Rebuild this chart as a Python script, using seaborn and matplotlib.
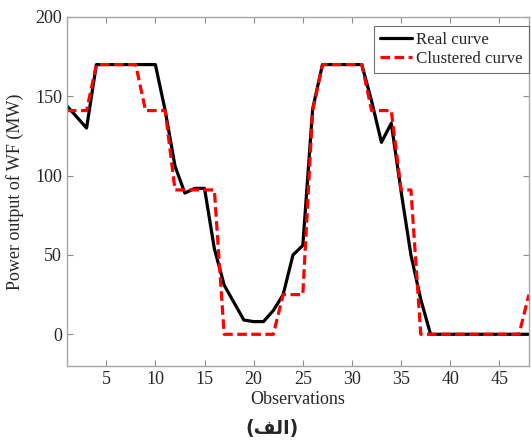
import numpy as np
import pandas as pd
import matplotlib
matplotlib.use("Agg")
import matplotlib.pyplot as plt
import seaborn as sns

# Observations (hourly index) and the two power curves, in MW
observations = list(range(1, 49))
real_curve = [
    144, 137, 130, 170, 170, 170, 170, 170, 170, 170,
    141, 106, 89, 92, 92, 54, 31, 20, 9, 8,
    8, 15, 25, 50, 56, 142, 170, 170, 170, 170,
    170, 147, 121, 133, 90, 50, 22, 0, 0, 0,
    0, 0, 0, 0, 0, 0, 0, 0,
]
clustered_curve = [
    141, 141, 141, 170, 170, 170, 170, 170, 141, 141,
    141, 91, 91, 91, 91, 91, 0, 0, 0, 0,
    0, 0, 25, 25, 25, 141, 170, 170, 170, 170,
    170, 141, 141, 141, 91, 91, 0, 0, 0, 0,
    0, 0, 0, 0, 0, 0, 0, 25,
]
series_names = ["Real curve", "Clustered curve"]
x_ticks = [5, 10, 15, 20, 25, 30, 35, 40, 45]
y_ticks = [0, 50, 100, 150, 200]

df = pd.DataFrame({
    "obs": observations * 2,
    "power": real_curve + clustered_curve,
    "curve": [series_names[0]] * len(real_curve) + [series_names[1]] * len(clustered_curve),
})

sns.set_style("ticks")
plt.rcParams["font.family"] = ["Liberation Serif", "DejaVu Serif"]
plt.rcParams["xtick.direction"] = "in"
plt.rcParams["ytick.direction"] = "in"

fig = plt.figure(figsize=(5.31, 4.41), dpi=100)
ax = fig.add_axes([0.126, 0.170, 0.87, 0.7915])

sns.lineplot(
    data=df, x="obs", y="power", hue="curve", style="curve",
    palette={series_names[0]: "black", series_names[1]: "#ff0000"},
    dashes={series_names[0]: "", series_names[1]: (3, 1.4)},
    linewidth=2.3, ax=ax,
)

ax.set_xlim(1, 48)
ax.set_ylim(-20, 200)
ax.set_xticks(x_ticks)
ax.set_yticks(y_ticks)
ax.tick_params(axis="both", labelsize=13, color="0.55", length=4, width=0.8,
               top=True, right=True)
for sp in ax.spines.values():
    sp.set_color("0.65")
    sp.set_linewidth(1.0)

ax.set_xlabel("Observations", fontsize=13, labelpad=2)
ax.set_ylabel("Power output of WF (MW)", fontsize=13, labelpad=8)

handles, labels = ax.get_legend_handles_labels()
leg = ax.legend(handles, labels, loc="upper right", bbox_to_anchor=(1.0, 0.975),
                fontsize=12.2, frameon=True, fancybox=False, handlelength=1.9,
                handletextpad=0.25, borderpad=0.35, labelspacing=0.2,
                borderaxespad=0.0)
leg.get_frame().set_edgecolor("0.3")
leg.get_frame().set_linewidth(0.8)

# caption "(الف)" written in visual order with Arabic presentation forms
fig.text(0.513, 0.028, "(\ufed2\ufedf\ufe8d)", ha="center", va="center",
         fontsize=13.5, fontweight="bold", family=["DejaVu Sans"])

fig.savefig("out.png", dpi=100)
